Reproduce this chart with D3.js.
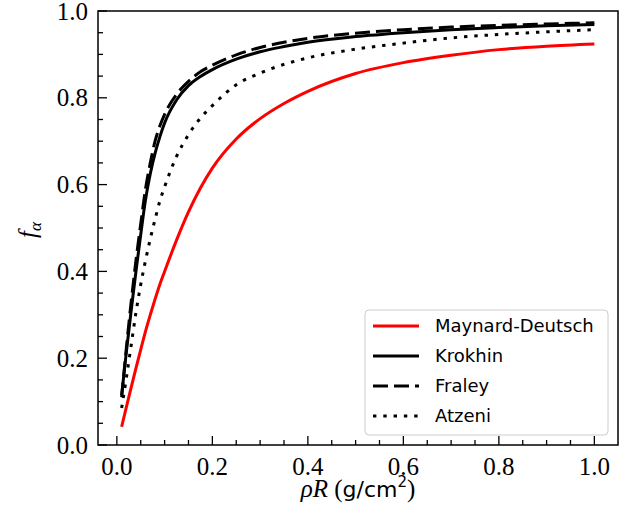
<!DOCTYPE html>
<html>
<head>
<meta charset="utf-8">
<script src="https://cdn.jsdelivr.net/npm/d3@7"></script>
<style>
  body { margin: 0; background: #fff; }
  svg { display: block; }
  .serif { font-family: "Liberation Serif", "DejaVu Serif", serif; }
  .sans { font-family: "DejaVu Sans", sans-serif; }
</style>
</head>
<body>
<div class="chart"></div>
<script>
// rho R values (g/cm^2), shared by all curves
const rhoR = [0.01, 0.02, 0.03, 0.04, 0.05, 0.06, 0.07, 0.08, 0.09, 0.1,
  0.125, 0.15, 0.175, 0.2, 0.25, 0.3, 0.35, 0.4, 0.5, 0.6, 0.7, 0.8, 0.9, 1.0]

// f_alpha
const maynardDeutsch = [0.042, 0.088, 0.133, 0.177, 0.22, 0.262, 0.30, 0.336, 0.37, 0.40,
  0.472, 0.537, 0.592, 0.638, 0.705, 0.752, 0.787, 0.815, 0.856, 0.881, 0.898, 0.911, 0.919, 0.924]
const krokhin = [0.115, 0.215, 0.31, 0.40, 0.485, 0.565, 0.625, 0.672, 0.71, 0.742,
  0.795, 0.828, 0.849, 0.865, 0.889, 0.906, 0.918, 0.928, 0.941, 0.950, 0.957, 0.962, 0.966, 0.969]
const fraley = [0.11, 0.225, 0.33, 0.425, 0.51, 0.59, 0.65, 0.70, 0.735, 0.762,
  0.808, 0.838, 0.86, 0.875, 0.899, 0.916, 0.928, 0.937, 0.949, 0.957, 0.963, 0.967, 0.970, 0.973]
const atzeni = [0.085, 0.155, 0.23, 0.305, 0.37, 0.425, 0.475, 0.52, 0.562, 0.595,
  0.665, 0.715, 0.753, 0.782, 0.83, 0.857, 0.877, 0.892, 0.912, 0.926, 0.938, 0.946, 0.952, 0.957]

const seriesNames = ["Maynard-Deutsch", "Krokhin", "Fraley", "Atzeni"]
const seriesValues = [maynardDeutsch, krokhin, fraley, atzeni]

const xTicks = [0, 0.2, 0.4, 0.6, 0.8, 1.0]
const yTicks = [0, 0.2, 0.4, 0.6, 0.8, 1.0]

const styles = [
  {color: "#ff0000", dash: null},
  {color: "#000000", dash: null},
  {color: "#000000", dash: "15,6"},
  {color: "#000000", dash: "3.4,6.9"}
]

const W = 640, H = 523
const plot = {left: 98, right: 618, top: 11, bottom: 445}

const svg = d3.select(".chart").append("svg")
  .attr("width", W).attr("height", H)

const x = d3.scaleLinear().domain([-0.0395, 1.0495]).range([plot.left, plot.right])
const y = d3.scaleLinear().domain([0, 1]).range([plot.bottom, plot.top])

// minor ticks
const xMinor = d3.range(0, 1.0001, 0.05).filter(v => Math.abs(v * 5 - Math.round(v * 5)) > 1e-6)
const yMinor = d3.range(0, 1.0001, 0.05).filter(v => Math.abs(v * 5 - Math.round(v * 5)) > 1e-6)

const ticks = svg.append("g").attr("stroke", "#000").attr("stroke-width", 1.3)
ticks.selectAll(".xmaj").data(xTicks).join("line")
  .attr("x1", d => x(d)).attr("x2", d => x(d))
  .attr("y1", plot.bottom).attr("y2", plot.bottom - 9)
ticks.selectAll(".xmin").data(xMinor).join("line")
  .attr("x1", d => x(d)).attr("x2", d => x(d))
  .attr("y1", plot.bottom).attr("y2", plot.bottom - 5)
ticks.selectAll(".ymaj").data(yTicks).join("line")
  .attr("x1", plot.left).attr("x2", plot.left + 9)
  .attr("y1", d => y(d)).attr("y2", d => y(d))
ticks.selectAll(".ymin").data(yMinor).join("line")
  .attr("x1", plot.left).attr("x2", plot.left + 5)
  .attr("y1", d => y(d)).attr("y2", d => y(d))

// tick labels
svg.append("g").selectAll("text").data(xTicks).join("text")
  .attr("class", "serif")
  .attr("x", d => x(d)).attr("y", plot.bottom + 30)
  .attr("text-anchor", "middle")
  .attr("font-size", 25)
  .text(d => d3.format(".1f")(d))
svg.append("g").selectAll("text").data(yTicks).join("text")
  .attr("class", "serif")
  .attr("x", plot.left - 10).attr("y", d => y(d))
  .attr("dy", "0.34em")
  .attr("text-anchor", "end")
  .attr("font-size", 25)
  .text(d => d3.format(".1f")(d))

// curves
const line = d3.line()
  .x((d, i) => x(rhoR[i]))
  .y(d => y(d))
  .curve(d3.curveMonotoneX)

svg.append("g").selectAll("path").data(seriesValues).join("path")
  .attr("fill", "none")
  .attr("stroke", (d, i) => styles[i].color)
  .attr("stroke-width", 3)
  .attr("stroke-dasharray", (d, i) => styles[i].dash)
  .attr("d", d => line(d))

// frame
svg.append("rect")
  .attr("x", plot.left).attr("y", plot.top)
  .attr("width", plot.right - plot.left).attr("height", plot.bottom - plot.top)
  .attr("fill", "none").attr("stroke", "#000").attr("stroke-width", 1.5)

// legend
const legend = svg.append("g")
legend.append("rect")
  .attr("x", 365).attr("y", 310).attr("width", 243).attr("height", 125)
  .attr("rx", 4).attr("fill", "#fff").attr("fill-opacity", 0.8)
  .attr("stroke", "#cccccc").attr("stroke-width", 1)
const rows = legend.selectAll(".row").data(seriesNames).join("g")
  .attr("transform", (d, i) => `translate(0,${326 + i * 30})`)
rows.append("line")
  .attr("x1", 373).attr("x2", 419)
  .attr("stroke", (d, i) => styles[i].color)
  .attr("stroke-width", 3)
  .attr("stroke-dasharray", (d, i) => styles[i].dash)
rows.append("text")
  .attr("class", "sans")
  .attr("x", 435).attr("dy", "0.36em")
  .attr("font-size", 18)
  .text(d => d)

// axis labels
const xl = svg.append("text")
  .attr("class", "serif")
  .attr("x", (plot.left + plot.right) / 2).attr("y", 497)
  .attr("text-anchor", "middle")
  .attr("font-size", 25)
xl.append("tspan").attr("font-style", "italic").text("ρR")
xl.append("tspan").text(" (")
xl.append("tspan").attr("class", "sans").attr("font-size", 22).text("g/cm")
xl.append("tspan").attr("class", "sans").attr("font-size", 15).attr("dy", -10).text("2")
xl.append("tspan").attr("dy", 10).text(")")

const yl = svg.append("text")
  .attr("class", "serif")
  .attr("transform", "translate(36,230) rotate(-90)")
  .attr("text-anchor", "middle")
  .attr("font-size", 25)
yl.append("tspan").attr("font-style", "italic").text("f")
yl.append("tspan").attr("font-style", "italic").attr("font-size", 17).attr("dy", 5).text("α")
</script>
</body>
</html>
